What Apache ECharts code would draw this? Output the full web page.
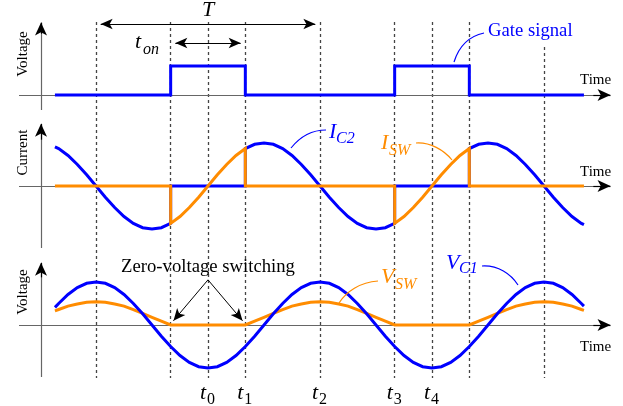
<!DOCTYPE html>
<html>
<head>
<meta charset="utf-8">
<script src="https://cdn.jsdelivr.net/npm/echarts@6/dist/echarts.min.js"></script>
<style>
  html, body { margin: 0; padding: 0; background: #ffffff; }
  #chart { width: 623px; height: 406px; }
</style>
</head>
<body>
<div id="chart"></div>
<script>
// Zero-voltage-switching converter waveforms over two switching periods.
// Time unit: one period T = 12.

// Instants marked with dashed guides
const switchTimes = [0, 4, 6, 8, 12, 16, 18, 20, 24];
// Named instants t0..t4 under the bottom panel
const instantNames = ['0', '1', '2', '3', '4'];
const instantTimes = [6, 8, 12, 16, 18];
// Period and on-time spans
const periodSpan = [0, 12];
const onTimeSpan = [4, 8];

// Gate drive (0 = off, 1 = on)
const gateSignal = [[-2.2, 0], [4, 0], [4, 1], [8, 1], [8, 0], [16, 0], [16, 1], [20, 1], [20, 0], [26.14, 0]];

// Capacitor C2 current
const currentC2 = [
  [-2.2, 0.91], [-2, 0.87], [-1.5, 0.71], [-1, 0.5], [-0.5, 0.26], [0, 0], [0.5, -0.26], [1, -0.5],
  [1.5, -0.71], [2, -0.87], [2.5, -0.97], [3, -1], [3.5, -0.97], [4, -0.87],
  [4, 0], [8, 0],
  [8, 0.87], [8.5, 0.97], [9, 1], [9.5, 0.97], [10, 0.87], [10.5, 0.71], [11, 0.5], [11.5, 0.26],
  [12, 0], [12.5, -0.26], [13, -0.5], [13.5, -0.71], [14, -0.87], [14.5, -0.97], [15, -1], [15.5, -0.97], [16, -0.87],
  [16, 0], [20, 0],
  [20, 0.87], [20.5, 0.97], [21, 1], [21.5, 0.97], [22, 0.87], [22.5, 0.71], [23, 0.5], [23.5, 0.26],
  [24, 0], [24.5, -0.26], [25, -0.5], [25.5, -0.71], [26, -0.87], [26.14, -0.9]
];

// Switch current
const currentSW = [
  [-2.2, 0], [4, 0], [4, -0.87], [4.5, -0.71], [5, -0.5], [5.5, -0.26], [6, 0], [6.5, 0.26], [7, 0.5], [7.5, 0.71], [8, 0.87],
  [8, 0], [16, 0], [16, -0.87], [16.5, -0.71], [17, -0.5], [17.5, -0.26], [18, 0], [18.5, 0.26], [19, 0.5], [19.5, 0.71], [20, 0.87],
  [20, 0], [26.14, 0]
];

// Capacitor C1 voltage
const voltageC1 = [
  [-2.2, 0.41], [-2, 0.5], [-1.5, 0.71], [-1, 0.87], [-0.5, 0.97], [0, 1], [0.5, 0.97], [1, 0.87], [1.5, 0.71], [2, 0.5],
  [2.5, 0.26], [3, 0], [3.5, -0.26], [4, -0.5], [4.5, -0.71], [5, -0.87], [5.5, -0.97], [6, -1], [6.5, -0.97], [7, -0.87],
  [7.5, -0.71], [8, -0.5], [8.5, -0.26], [9, 0], [9.5, 0.26], [10, 0.5], [10.5, 0.71], [11, 0.87], [11.5, 0.97], [12, 1],
  [12.5, 0.97], [13, 0.87], [13.5, 0.71], [14, 0.5], [14.5, 0.26], [15, 0], [15.5, -0.26], [16, -0.5], [16.5, -0.71],
  [17, -0.87], [17.5, -0.97], [18, -1], [18.5, -0.97], [19, -0.87], [19.5, -0.71], [20, -0.5], [20.5, -0.26], [21, 0],
  [21.5, 0.26], [22, 0.5], [22.5, 0.71], [23, 0.87], [23.5, 0.97], [24, 1], [24.5, 0.97], [25, 0.87], [25.5, 0.71],
  [26, 0.5], [26.14, 0.44]
];

// Switch voltage
const voltageSW = [
  [-2.2, 0.33], [-2, 0.36], [-1.5, 0.44], [-1, 0.49], [-0.5, 0.53], [0, 0.54], [0.5, 0.53], [1, 0.49], [1.5, 0.44],
  [2, 0.36], [2.5, 0.27], [3, 0.18], [3.5, 0.09], [4, 0], [8, 0], [8.5, 0.09], [9, 0.18], [9.5, 0.27], [10, 0.36],
  [10.5, 0.44], [11, 0.49], [11.5, 0.53], [12, 0.54], [12.5, 0.53], [13, 0.49], [13.5, 0.44], [14, 0.36], [14.5, 0.27],
  [15, 0.18], [15.5, 0.09], [16, 0], [20, 0], [20.5, 0.09], [21, 0.18], [21.5, 0.27], [22, 0.36], [22.5, 0.44],
  [23, 0.49], [23.5, 0.53], [24, 0.54], [24.5, 0.53], [25, 0.49], [25.5, 0.44], [26, 0.36], [26.14, 0.34]
];

const BLUE = '#0000ff';
const ORANGE = '#ff8c00';
const SERIF = '"Liberation Serif", "Times New Roman", serif';

const X_MIN = -4.125, X_MAX = 27.643, Y_AXIS_T = -2.946;
const GRID_LEFT = 19, GRID_RIGHT = 11;
const TEXT_SHIFT = 3;

const panels = [
  { top: 22, height: 88, min: -0.517, max: 2.517 },
  { top: 123, height: 125, min: -1.442, max: 1.465 },
  { top: 262, height: 115, min: -1.209, max: 1.465 }
];

const grids = panels.map(p => ({ left: GRID_LEFT, right: GRID_RIGHT, top: p.top, height: p.height }));
grids.push({ left: GRID_LEFT, right: GRID_RIGHT, top: 0, height: 406 });

const xAxes = grids.map((g, i) => ({ type: 'value', gridIndex: i, min: X_MIN, max: X_MAX, show: false }));
const yAxes = panels.map((p, i) => ({ type: 'value', gridIndex: i, min: p.min, max: p.max, show: false }));
yAxes.push({ type: 'value', gridIndex: 3, min: 0, max: 406, inverse: true, show: false });

function curve(name, data, color, panel, z) {
  return {
    name, type: 'line', data, xAxisIndex: panel, yAxisIndex: panel,
    showSymbol: false, silent: true, z,
    lineStyle: { color, width: 3, join: 'miter', cap: 'butt' }
  };
}

function axesFor(panel) {
  const p = panels[panel];
  const unit = (p.max - p.min) / 3;
  return [{
    type: 'line', data: [], xAxisIndex: panel, yAxisIndex: panel, z: 1, silent: true,
    markLine: {
      z: 1,
      silent: true, animation: false, symbol: ['none', 'none'],
      label: { show: false },
      lineStyle: { color: '#666666', width: 1.2, type: 'solid' },
      emphasis: { disabled: true },
      data: [
        [{ coord: [X_MIN, 0] }, { coord: [X_MAX - 0.3, 0] }],
        [{ coord: [Y_AXIS_T, p.min] }, { coord: [Y_AXIS_T, p.max - 0.05] }]
      ]
    }
  }, {
    type: 'line', data: [], xAxisIndex: panel, yAxisIndex: panel, z: 2, silent: true,
    markLine: {
      z: 2,
      silent: true, animation: false, symbol: ['none', 'arrow'], symbolSize: [9, 13],
      label: { show: false },
      lineStyle: { color: '#000000', width: 1.2, type: 'solid' },
      emphasis: { disabled: true },
      data: [
        [{ coord: [X_MAX - 1.0, 0] }, { coord: [X_MAX - 0.08, 0] }],
        [{ coord: [Y_AXIS_T, p.max - 0.4 * unit] }, { coord: [Y_AXIS_T, p.max - 0.02 * unit] }]
      ]
    }
  }];
}

const guideSeries = {
  type: 'line', data: [], xAxisIndex: 3, yAxisIndex: 3, z: 0, silent: true,
  markLine: {
    z: 0,
    silent: true, animation: false, symbol: ['none', 'none'],
    label: { show: false },
    emphasis: { disabled: true },
    lineStyle: { color: '#444444', width: 1.3, type: [3, 3] },
    data: switchTimes.map(t => [{ coord: [t, t === 24 ? 47 : 22] }, { coord: [t, 378] }])
  }
};

const spanSeries = {
  type: 'line', data: [], xAxisIndex: 3, yAxisIndex: 3, z: 2, silent: true,
  markLine: {
    z: 2,
    silent: true, animation: false, symbol: ['arrow', 'arrow'], symbolSize: [8, 12],
    label: { show: false },
    emphasis: { disabled: true },
    lineStyle: { color: '#000000', width: 1.2, type: 'solid' },
    data: [
      [{ coord: [periodSpan[0] + 0.25, 24] }, { coord: [periodSpan[1] - 0.25, 24] }],
      [{ coord: [onTimeSpan[0] + 0.25, 43] }, { coord: [onTimeSpan[1] - 0.25, 43] }]
    ]
  }
};

// Arrows pointing to the zero-voltage turn-on and turn-off instants
const zvsSeries = {
  type: 'line', data: [], xAxisIndex: 2, yAxisIndex: 2, z: 6, silent: true,
  markLine: {
    z: 6,
    silent: true, animation: false, symbol: ['none', 'arrow'], symbolSize: [8, 12],
    label: { show: false },
    emphasis: { disabled: true },
    lineStyle: { color: '#000000', width: 1, type: 'solid' },
    data: [
      [{ coord: [6, 1.05] }, { coord: [4.15, 0.1] }],
      [{ coord: [6, 1.05] }, { coord: [7.85, 0.1] }]
    ]
  }
};

function text(x, y, str, opts) {
  return {
    type: 'text', x, y: y + TEXT_SHIFT, z: 100, silent: true,
    rotation: opts.rotation || 0,
    style: {
      text: str, fill: opts.color || '#000000',
      fontFamily: SERIF, fontSize: opts.size, fontStyle: opts.italic ? 'italic' : 'normal',
      align: opts.align || 'left', verticalAlign: 'middle'
    }
  };
}

// Vertical axis title, reading bottom to top
function sideTitle(x, y, str) {
  const el = text(x + TEXT_SHIFT, y, str, { size: 15, align: 'center', rotation: Math.PI / 2 });
  el.y = y;
  return el;
}

function leader(x1, y1, cpx1, cpy1, cpx2, cpy2, x2, y2, color) {
  return {
    type: 'bezierCurve', z: 100, silent: true,
    shape: { x1, y1, cpx1, cpy1, cpx2, cpy2, x2, y2 },
    style: { stroke: color, lineWidth: 1.2, fill: null }
  };
}

const chart = echarts.init(document.getElementById('chart'), null, { renderer: 'canvas' });

chart.setOption({
  animation: false,
  backgroundColor: '#ffffff',
  grid: grids,
  xAxis: xAxes,
  yAxis: yAxes,
  series: [
    guideSeries,
    spanSeries,
    ...axesFor(0), ...axesFor(1), ...axesFor(2),
    curve('Gate signal', gateSignal, BLUE, 0, 5),
    curve('I_C2', currentC2, BLUE, 1, 4),
    curve('I_SW', currentSW, ORANGE, 1, 5),
    curve('V_SW', voltageSW, ORANGE, 2, 4),
    curve('V_C1', voltageC1, BLUE, 2, 5),
    zvsSeries
  ]
});

const px = t => chart.convertToPixel({ xAxisIndex: 3 }, t);

const graphics = [
  // period and on-time
  text(px(6), 7.6, 'T', { size: 22, italic: true, align: 'center' }),
  text(135, 39.6, 't', { size: 22, italic: true }),
  text(143, 46.6, 'on', { size: 16, italic: true }),
  // axis titles
  sideTitle(20, 54, 'Voltage'),
  sideTitle(20, 152.5, 'Current'),
  sideTitle(20, 292, 'Voltage'),
  text(580, 77, 'Time', { size: 15 }),
  text(580, 169, 'Time', { size: 15 }),
  text(580, 344, 'Time', { size: 15 }),
  // gate signal tag
  text(488, 28, 'Gate signal', { size: 18.7, color: BLUE }),
  leader(454, 62, 459, 46, 470, 36, 484, 33, BLUE),
  // current tags
  text(329, 129.6, 'I', { size: 22, italic: true, color: BLUE }),
  text(336, 135.6, 'C2', { size: 16, italic: true, color: BLUE }),
  leader(291, 148, 299, 138, 311, 130, 326, 130, BLUE),
  text(381, 140.6, 'I', { size: 22, italic: true, color: ORANGE }),
  text(389, 147.6, 'SW', { size: 16, italic: true, color: ORANGE }),
  leader(416, 143, 430, 142, 444, 150, 452, 160, ORANGE),
  // voltage tags
  text(381, 274.6, 'V', { size: 22, italic: true, color: ORANGE }),
  text(395, 281.6, 'SW', { size: 16, italic: true, color: ORANGE }),
  leader(339, 303, 346, 292, 360, 282, 378, 281, ORANGE),
  text(446, 260.6, 'V', { size: 22, italic: true, color: BLUE }),
  text(459, 265.6, 'C1', { size: 16, italic: true, color: BLUE }),
  leader(482, 266, 498, 265, 511, 274, 518, 285, BLUE),
  // zero-voltage switching note
  text(px(6), 264, 'Zero-voltage switching', { size: 18.7, align: 'center' })
];

instantTimes.forEach((t, i) => {
  const x = px(t);
  graphics.push(text(x - 8, 390.6, 't', { size: 22, italic: true }));
  graphics.push(text(x - 1, 396.6, instantNames[i], { size: 16 }));
});

chart.setOption({ graphic: graphics });
</script>
</body>
</html>
